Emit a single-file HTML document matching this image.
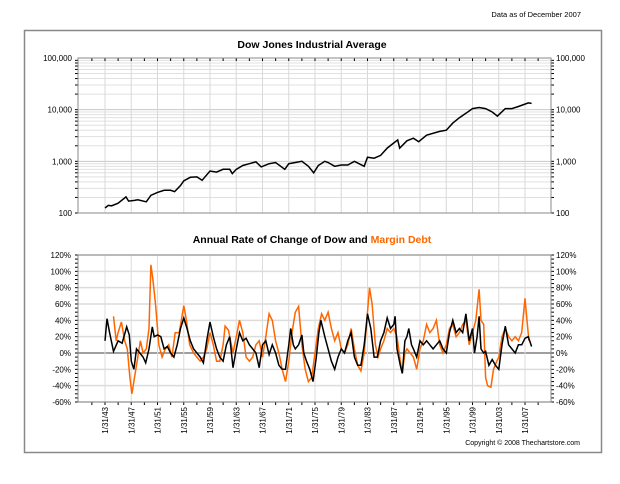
<!DOCTYPE html>
<html><head><meta charset="utf-8"><style>
body{margin:0;background:#fff;font-family:"Liberation Sans",Arial,sans-serif;}
svg text{font-family:"Liberation Sans",Arial,sans-serif;}
</style></head><body>
<svg id="c" width="620" height="479" xmlns="http://www.w3.org/2000/svg">
<rect x="0" y="0" width="620" height="479" fill="#fff"/>
<text x="581" y="17" font-size="7.5" text-anchor="end" fill="#000">Data as of December 2007</text>
<rect x="24.5" y="30.5" width="577" height="422" fill="#fff" stroke="#888" stroke-width="1.5"/>
<text x="312" y="48" font-size="10.5" font-weight="bold" text-anchor="middle">Dow Jones Industrial Average</text>
<text x="312" y="243" font-size="10.5" font-weight="bold" text-anchor="middle">Annual Rate of Change of Dow and <tspan fill="#ff6600">Margin Debt</tspan></text>
<text x="580" y="445" font-size="7" text-anchor="end">Copyright © 2008 Thechartstore.com</text>
<g id="top"></g><g id="bot"></g>
</svg>
<script>
const dowYears=[1943,1943.5,1944,1945,1946.2,1946.6,1947.5,1948,1949.3,1950,1951,1952,1953,1953.6,1954.5,1955,1956,1957,1957.8,1959,1960,1961,1962,1962.4,1963,1964,1965,1966,1966.8,1968,1969,1970.4,1971,1972,1973,1974,1974.8,1975.5,1976.5,1977,1978,1979,1980,1981,1982.5,1983,1984,1985,1986,1987.6,1987.9,1989,1990,1990.8,1992,1994,1995,1996,1997,1998,1999,2000,2001,2002,2002.8,2004,2005,2006,2007.5,2008];
const dowValues=[125,140,138,155,205,170,175,180,165,220,250,275,275,260,340,420,490,500,430,650,620,700,700,580,700,830,900,980,780,900,950,700,900,950,1000,800,600,830,1000,950,800,850,850,1000,800,1200,1150,1300,1800,2600,1800,2500,2800,2400,3200,3800,4000,5500,7000,8500,10500,11000,10500,9000,7500,10500,10500,11500,13500,13200];
const dowRocYears=[1943,1943.3,1943.7,1944.3,1945,1945.6,1946.3,1946.7,1947,1947.4,1947.8,1948.3,1948.8,1949.2,1949.7,1950.2,1950.5,1951,1951.5,1952,1952.5,1953,1953.5,1954,1954.5,1955,1955.5,1956,1956.5,1957,1957.5,1958,1958.5,1959,1959.5,1960,1960.5,1961,1961.5,1962,1962.5,1963,1963.5,1964,1964.5,1965,1965.5,1966,1966.5,1967,1967.5,1968,1968.5,1969,1969.5,1970,1970.5,1971,1971.3,1971.7,1972,1972.5,1973,1973.3,1973.7,1974.2,1974.7,1975.2,1975.6,1975.9,1976.5,1977,1977.5,1978,1978.5,1979,1979.5,1980,1980.5,1981,1981.5,1982,1982.5,1983,1983.5,1984,1984.5,1985,1985.5,1986,1986.5,1987,1987.2,1987.5,1988,1988.3,1988.7,1989,1989.3,1989.7,1990,1990.5,1991,1991.5,1992,1992.5,1993,1993.5,1994,1994.5,1995,1995.5,1996,1996.5,1997,1997.5,1998,1998.5,1999,1999.3,1999.7,2000,2000.3,2000.7,2001,2001.5,2002,2002.5,2003,2003.5,2004,2004.5,2005,2005.5,2006,2006.5,2007,2007.5,2008];
const dowRocValues=[15,42,25,2,15,12,32,22,-10,-20,5,0,-5,-12,5,32,20,22,20,5,8,0,-5,10,30,43,30,15,5,0,-5,-12,15,38,20,5,-5,-10,10,20,-18,5,25,15,18,10,5,0,-18,10,15,-2,10,0,-15,-20,-20,10,30,10,5,10,22,0,-10,-20,-35,-5,25,40,20,5,-10,-20,-5,5,0,15,25,-5,-15,-15,10,48,30,-5,-5,15,25,43,30,35,45,5,-15,-25,15,20,30,10,5,-5,15,10,15,10,5,10,15,5,0,25,40,25,30,25,48,15,30,0,20,45,5,0,2,-15,-8,-15,-20,10,33,10,5,0,10,10,18,20,8];
const marginYears=[1944.3,1944.7,1945,1945.5,1946,1946.4,1946.8,1947.1,1947.5,1948,1948.4,1948.8,1949.3,1949.7,1950,1950.3,1950.7,1951.2,1951.7,1952.2,1952.7,1953.2,1953.7,1954.3,1955,1955.4,1955.9,1956.5,1957,1957.5,1958,1958.5,1959,1959.5,1960,1960.5,1961,1961.3,1961.8,1962.5,1963,1963.5,1964,1964.5,1965,1965.5,1966,1966.5,1967,1967.5,1968,1968.5,1969,1969.5,1970,1970.5,1971,1971.5,1972,1972.5,1973,1973.5,1974,1974.5,1975,1975.5,1976,1976.5,1977,1977.5,1978,1978.5,1979,1979.5,1980,1980.5,1981,1981.5,1982,1982.5,1983,1983.3,1983.7,1984.2,1984.6,1985,1985.5,1986,1986.5,1987,1987.5,1988,1988.3,1988.7,1989,1989.5,1990,1990.5,1991,1991.5,1992,1992.5,1993,1993.5,1994,1994.5,1995,1995.5,1996,1996.5,1997,1997.5,1998,1998.5,1999,1999.5,2000,2000.3,2000.7,2001,2001.3,2001.8,2002.2,2002.7,2003,2003.5,2004,2004.5,2005,2005.5,2006,2006.5,2007,2007.3,2007.6];
const marginValues=[45,15,25,38,15,5,-30,-50,-30,-5,15,0,5,30,108,90,60,10,-5,5,10,-5,25,25,58,40,10,0,-5,-10,-5,5,25,10,-10,-10,10,33,28,0,20,40,25,-5,-10,-5,10,15,-5,20,48,40,15,0,-20,-35,-10,25,50,57,10,-20,-35,-30,0,30,48,40,50,30,15,25,5,0,10,30,5,-15,-22,0,50,80,60,10,-5,5,15,30,25,30,20,-10,-25,0,5,0,-5,-20,5,15,35,25,30,40,10,0,10,30,35,20,25,35,40,10,25,40,78,40,35,-30,-40,-42,-20,-10,-5,20,30,20,15,20,15,25,67,40,15];
const logTicks=[100,1000,10000,100000];
const logTickLabels=["100","1,000","10,000","100,000"];
const pctTicks=[-60,-40,-20,0,20,40,60,80,100,120];
const catLabels=["1/31/43","1/31/47","1/31/51","1/31/55","1/31/59","1/31/63","1/31/67","1/31/71","1/31/75","1/31/79","1/31/83","1/31/87","1/31/91","1/31/95","1/31/99","1/31/03","1/31/07"];
const catYears=[1943,1947,1951,1955,1959,1963,1967,1971,1975,1979,1983,1987,1991,1995,1999,2003,2007];

const NS="http://www.w3.org/2000/svg";
const L=78,R=551,BT=255,BB=402;
function xs(y){return 105+(y-1943)*6.5625;}
function yTop(v){return 213-(Math.log10(v)-2)*51.67;}
function yBot(v){return BB-(v+60)*(BB-BT)/180;}
function mk(p,tag,a){const e=document.createElementNS(NS,tag);for(const k in a)e.setAttribute(k,a[k]);p.appendChild(e);return e;}
const topG=document.getElementById('top'),botG=document.getElementById('bot');

for(let d=2;d<5;d++){for(let m=1;m<10;m++){const v=Math.pow(10,d)*m;const y=yTop(v);
 const g=mk(topG,'line',{x1:L,x2:R,y1:y,y2:y,stroke:m==1?'#c8c8c8':'#e0e0e0','stroke-width':1});
 
 
 mk(topG,'line',{x1:L-3,x2:L,y1:y,y2:y,stroke:'#000'});mk(topG,'line',{x1:R,x2:R+3,y1:y,y2:y,stroke:'#000'});}}
catYears.forEach(yr=>{const x=xs(yr);const g=mk(topG,'line',{x1:x,x2:x,y1:58,y2:213,stroke:'#d8d8d8'});
 
 });
for(let yr=1941;yr<=2009;yr+=2){const x=xs(yr);mk(topG,'line',{x1:x,x2:x,y1:58,y2:61,stroke:'#000'});}
mk(topG,'rect',{x:L,y:58,width:R-L,height:155,fill:'none',stroke:'#888'});
logTicks.forEach((v,i)=>{const y=yTop(v);
 const t1=mk(topG,'text',{x:L-6,y:y+3,'font-size':8,'text-anchor':'end'});t1.textContent=logTickLabels[i];
 
 
 const t2=mk(topG,'text',{x:R+5,y:y+3,'font-size':8});t2.textContent=logTickLabels[i];
 
 });
let d='';dowYears.forEach((yr,i)=>{d+=(i?'L':'M')+xs(yr).toFixed(1)+','+yTop(dowValues[i]).toFixed(1);});
const dl=mk(topG,'path',{d:d,fill:'none',stroke:'#000','stroke-width':1.5});



pctTicks.forEach(v=>{const y=yBot(v);
 const g=mk(botG,'line',{x1:L,x2:R,y1:y,y2:y,stroke:v==0?'#666':'#dcdcdc','stroke-width':v==0?1.2:1.5});
 
 
 const t1=mk(botG,'text',{x:L-7,y:y+3,'font-size':8,'text-anchor':'end'});t1.textContent=v+'%';
 
 
 const t2=mk(botG,'text',{x:R+5,y:y+3,'font-size':8});t2.textContent=v+'%';
 
 });
for(let v=-60;v<=120;v+=5){const y=yBot(v);mk(botG,'line',{x1:L-3,x2:L,y1:y,y2:y,stroke:'#000'});mk(botG,'line',{x1:R,x2:R+3,y1:y,y2:y,stroke:'#000'});}
catYears.forEach((yr,i)=>{const x=xs(yr);
 const g=mk(botG,'line',{x1:x,x2:x,y1:BT,y2:BB,stroke:'#dcdcdc'});
 
 
 const t=mk(botG,'text',{x:0,y:0,'font-size':8,'text-anchor':'end',transform:`translate(${x+3},407) rotate(-90)`});t.textContent=catLabels[i];
 
 });
for(let yr=1941;yr<=2009;yr+=2){const x=xs(yr);mk(botG,'line',{x1:x,x2:x,y1:BB,y2:BB+3,stroke:'#000'});}
mk(botG,'rect',{x:L,y:BT,width:R-L,height:BB-BT,fill:'none',stroke:'#888'});
d='';marginYears.forEach((yr,i)=>{d+=(i?'L':'M')+xs(yr).toFixed(1)+','+yBot(marginValues[i]).toFixed(1);});
const ml=mk(botG,'path',{d:d,fill:'none',stroke:'#ff6600','stroke-width':1.5});


d='';dowRocYears.forEach((yr,i)=>{d+=(i?'L':'M')+xs(yr).toFixed(1)+','+yBot(dowRocValues[i]).toFixed(1);});
const bl=mk(botG,'path',{d:d,fill:'none',stroke:'#000','stroke-width':1.5});


</script>
</body></html>
